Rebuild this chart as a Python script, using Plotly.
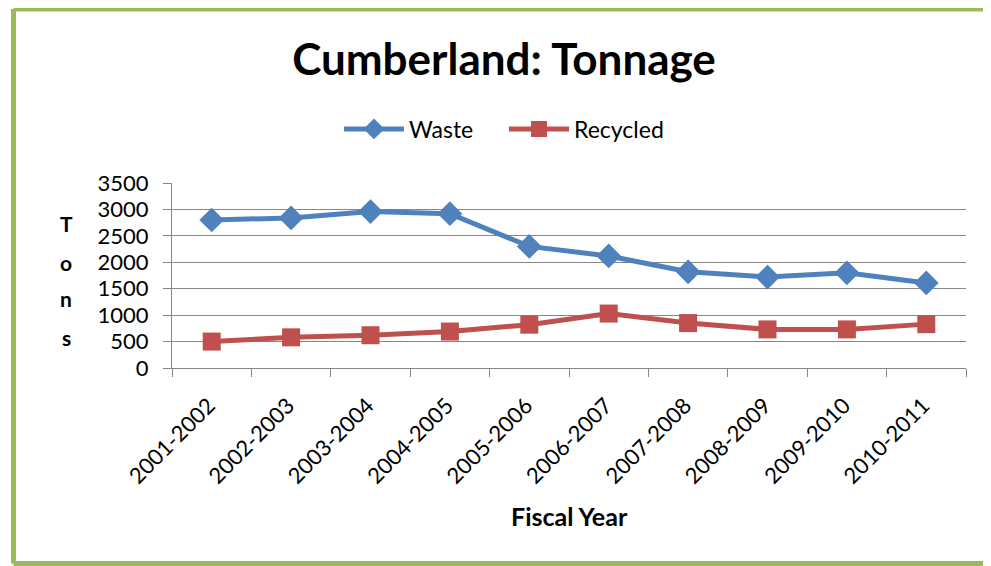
import plotly.graph_objects as go

years = ["2001-2002", "2002-2003", "2003-2004", "2004-2005", "2005-2006",
         "2006-2007", "2007-2008", "2008-2009", "2009-2010", "2010-2011"]
waste = [2800, 2840, 2960, 2920, 2300, 2120, 1820, 1720, 1800, 1610]
recycled = [500, 580, 620, 690, 820, 1030, 850, 730, 730, 830]

FONT = "Lato"
OFF = 8  # page body margin
fig = go.Figure()
fig.add_trace(go.Scatter(x=years, y=waste, name="Waste", mode="lines+markers",
                         line=dict(color="#4F81BD", width=5),
                         marker=dict(symbol="diamond", size=19, color="#4F81BD")))
fig.add_trace(go.Scatter(x=years, y=recycled, name="Recycled", mode="lines+markers",
                         line=dict(color="#C0504D", width=5),
                         marker=dict(symbol="square", size=18, color="#C0504D")))

W, H = 991 - OFF, 566 - OFF
L = 172 - OFF
R = W - (966 - OFF)
T = 183 - OFF
B = H - (368 - OFF)
pw, ph = W - L - R, H - T - B
def px(x): return (x - OFF - L) / pw
def py(y): return (H - B - (y - OFF)) / ph

annotations = []
for letter, yy in zip("Tons", [223, 262, 298, 337]):
    annotations.append(dict(text=letter, x=px(66), y=py(yy), xref="paper", yref="paper",
                            showarrow=False, font=dict(family=FONT, size=21, color="black", weight="bold"),
                            xanchor="center", yanchor="middle"))
annotations.append(dict(text="Fiscal Year", x=px(569), y=py(516), xref="paper", yref="paper",
                        showarrow=False, font=dict(family=FONT, size=25, color="black", weight="bold"),
                        xanchor="center", yanchor="middle"))

GREEN = dict(color="#9BBB59", width=5)
xl, xr = px(13.5), px(990)
yt, yb = py(9), py(563.5)
shapes = [
    dict(type="line", xref="paper", yref="paper", x0=xl, x1=xr, y0=yt, y1=yt, line=GREEN, layer="below"),
    dict(type="line", xref="paper", yref="paper", x0=xl, x1=xr, y0=yb, y1=yb, line=GREEN, layer="below"),
    dict(type="line", xref="paper", yref="paper", x0=xl, x1=xl, y0=yb, y1=yt, line=GREEN, layer="below"),
]

fig.update_layout(
    width=W, height=H,
    margin=dict(l=L, r=R, t=T, b=B),
    paper_bgcolor="white", plot_bgcolor="white",
    title=dict(text="<b>Cumberland: Tonnage</b>", x=(504 - OFF) / W, y=1 - (60 - OFF) / H,
               xanchor="center", yanchor="middle",
               font=dict(family=FONT, size=44, color="black")),
    legend=dict(orientation="h", x=px(504), y=py(129), xanchor="center", yanchor="middle",
                font=dict(family=FONT, size=23, color="black"), itemwidth=60,
                entrywidth=90, bgcolor="rgba(0,0,0,0)"),
    showlegend=True,
    annotations=annotations,
    shapes=shapes,
    xaxis=dict(type="category", range=[-0.5, len(years) - 0.5], tickson="boundaries",
               ticks="outside", ticklen=8,
               tickcolor="#868686", showline=True, linecolor="#868686", linewidth=1,
               showgrid=False, tickangle=-45, ticklabelstandoff=15, ticklabelshift=-3,
               tickfont=dict(family=FONT, size=22, color="black")),
    yaxis=dict(range=[0, 3500], dtick=500, ticks="outside", ticklen=8,
               tickcolor="#868686", showline=True, linecolor="#868686", linewidth=1,
               showgrid=True, gridcolor="#868686", gridwidth=1, zeroline=False,
               ticklabelstandoff=10,
               tickfont=dict(family=FONT, size=22, color="black")),
)
fig.write_html("out.html")
